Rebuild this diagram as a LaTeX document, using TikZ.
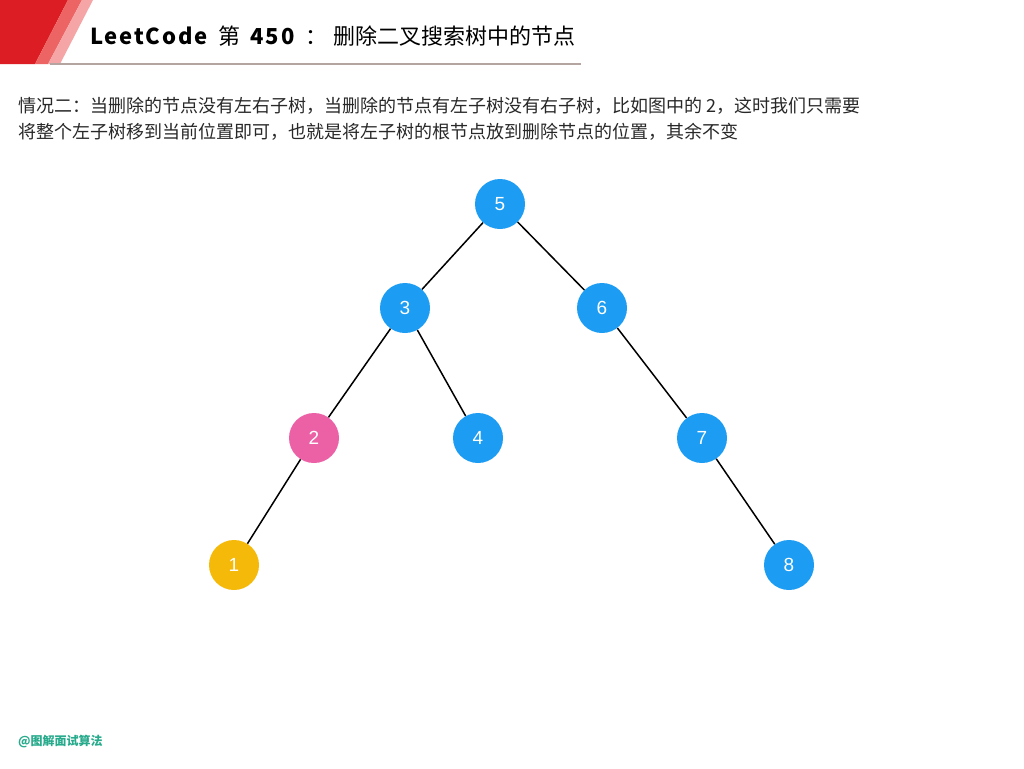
\documentclass[tikz,border=0pt]{standalone}
\usepackage{fontspec}
\setmainfont{Noto Sans CJK SC}
\newfontfamily\digitfont{Liberation Sans}
\usetikzlibrary{calc}
\definecolor{nodeblue}{RGB}{28,156,242}
\definecolor{nodepink}{RGB}{236,96,166}
\definecolor{nodeyellow}{RGB}{245,185,10}
\definecolor{hdred}{RGB}{220,30,36}
\definecolor{hdsalmon}{RGB}{236,100,100}
\definecolor{hdpink}{RGB}{245,165,165}
\definecolor{hdline}{RGB}{180,165,160}
\definecolor{bodytext}{RGB}{40,40,40}
\definecolor{footgreen}{RGB}{40,170,140}
\tikzset{
  tn/.style={circle, minimum size=50pt, inner sep=0pt, text=white, font=\digitfont\fontsize{19}{19}\selectfont},
  bluen/.style={tn, fill=nodeblue},
  pinkn/.style={tn, fill=nodepink},
  yellown/.style={tn, fill=nodeyellow},
  edge/.style={draw=black, line width=1.5pt},
  bodyline/.style={anchor=base west, inner sep=0pt, text=bodytext, font=\fontsize{18}{18}\selectfont},
  titlepart/.style={anchor=base west, inner sep=0pt, text=black, font=\fontsize{22}{22}\selectfont}
}
\begin{document}
\begin{tikzpicture}[x=1pt,y=-1pt]
\useasboundingbox (0,0) rectangle (1024,768);
\fill[white] (0,0) rectangle (1024,768);
% header decoration
\fill[hdred] (0,0) -- (68,0) -- (35,64) -- (0,64) -- cycle;
\fill[hdsalmon] (68,0) -- (82,0) -- (48,64) -- (35,64) -- cycle;
\fill[hdpink] (82,0) -- (93,0) -- (60,64) -- (48,64) -- cycle;
\draw[hdline, line width=1.5pt] (50,64) -- (581,64);
\node[titlepart] (t1) at (90,45) {\bfseries\addfontfeature{LetterSpace=8}LeetCode};
\node[titlepart] (t2) at (218,45) {第};
\node[titlepart] (t3) at (250,45) {\bfseries\addfontfeature{LetterSpace=10}450};
\node[titlepart] (t4) at (305,45) {：};
\node[titlepart] (t5) at (333,45) {删除二叉搜索树中的节点};
% body text
\node[bodyline] (l1) at (18,112) {情况二：当删除的节点没有左右子树，当删除的节点有左子树没有右子树，比如图中的 2，这时我们只需要};
\node[bodyline] (l2) at (18,138) {将整个左子树移到当前位置即可，也就是将左子树的根节点放到删除节点的位置，其余不变};
% tree
\node[bluen] (n5) at (500,204) {5};
\node[bluen] (n3) at (405,308) {3};
\node[bluen] (n6) at (602,308) {6};
\node[pinkn] (n2) at (314,438) {2};
\node[bluen] (n4) at (478,438) {4};
\node[bluen] (n7) at (702,438) {7};
\node[yellown] (n1) at (234,565) {1};
\node[bluen] (n8) at (789,565) {8};
\draw[edge] (n5) -- (n3);
\draw[edge] (n5) -- (n6);
\draw[edge] (n3) -- (n2);
\draw[edge] (n3) -- (n4);
\draw[edge] (n6) -- (n7);
\draw[edge] (n2) -- (n1);
\draw[edge] (n7) -- (n8);
% footer
\node[anchor=base west, inner sep=0pt, text=footgreen, font=\bfseries\fontsize{12}{12}\selectfont] (foot) at (18,745) {@图解面试算法};
\end{tikzpicture}
\end{document}
